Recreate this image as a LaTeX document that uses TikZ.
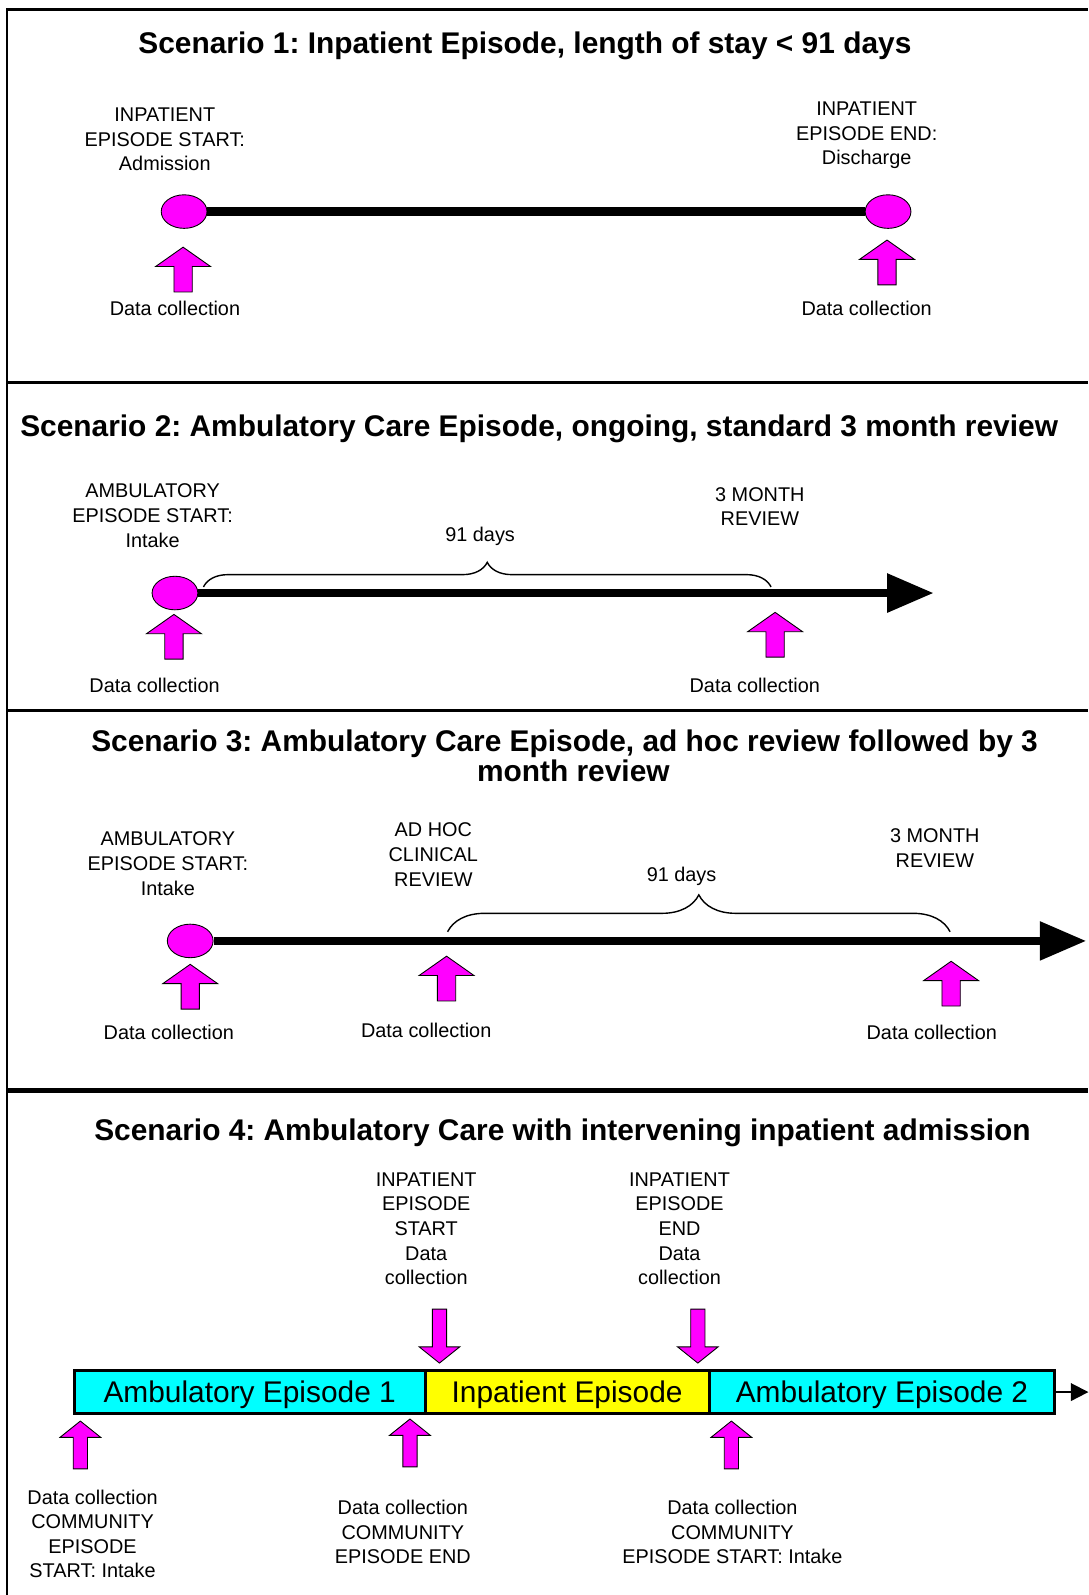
\documentclass[tikz,border=0pt]{standalone}
\usepackage{fontspec}
\setmainfont{Liberation Sans}
\frenchspacing
\usetikzlibrary{arrows.meta,shapes.geometric,decorations.pathreplacing}
\definecolor{collect}{RGB}{255,0,255}
\definecolor{ambulatory}{RGB}{0,255,255}
\definecolor{inpatient}{RGB}{255,255,0}

% block arrows marking a data collection point, tip at the pic origin
\tikzset{
  bigup/.pic={\filldraw[fill=collect, draw=black, line width=0.5pt]
    (0,0) -- (27,19) -- (9,19) -- (9,44) -- (-9,44) -- (-9,19) -- (-27,19) -- cycle;},
  smallup/.pic={\filldraw[fill=collect, draw=black, line width=0.5pt]
    (0,0) -- (20,16) -- (7,16) -- (7,47) -- (-7,47) -- (-7,16) -- (-20,16) -- cycle;},
  smalldown/.pic={\filldraw[fill=collect, draw=black, line width=0.5pt]
    (0,0) -- (20,-16) -- (7,-16) -- (7,-53) -- (-7,-53) -- (-7,-16) -- (-20,-16) -- cycle;}
}

\begin{document}
\begin{tikzpicture}[x=0.02034cm, y=-0.02034cm]
            \tikzstyle{heading} = [font=\fontsize{17}{17.5}\selectfont\bfseries, inner sep=0pt, align=center]
            \tikzstyle{txt} = [font=\fontsize{11.3}{14}\selectfont, inner sep=0pt, align=center]
            \tikzstyle{timeline} = [line width=5pt]
            \tikzstyle{spot} = [ellipse, draw=black, fill=collect, line width=0.5pt, inner sep=0pt,
                minimum width={45*0.02034cm}, minimum height={33*0.02034cm}]
            \tikzstyle{headtip} = [-{Triangle[length=26.5pt,width=21pt]}]
            \tikzstyle{dayspan} = [decorate, line width=0.8pt]
            \tikzstyle{episode} = [draw=black, line width=1.7pt, inner sep=0pt, text height=12.2pt, text depth=0pt,
                minimum height={43*0.02034cm}, font=\fontsize{17}{20}\selectfont]
            \useasboundingbox (0,0) rectangle (1070,1568);

            % frame
            \draw[line width=1.7pt] (6,9) -- (1070,9);
            \draw[line width=1.4pt] (7,8) -- (7,1568);
            \draw[line width=1.7pt] (7,376) -- (1070,376);
            \draw[line width=1.7pt] (7,698) -- (1070,698);
            \draw[line width=2.9pt] (7,1072) -- (1070,1072);

            % scenario 1
            \node[heading] (head1) at (516,45) {Scenario 1: Inpatient Episode, length of stay < 91 days};
            \node[txt] (s1admit) at (162,137) {INPATIENT\\EPISODE START:\\Admission};
            \node[txt] (s1disch) at (852,133) {INPATIENT\\EPISODE END:\\Discharge};
            \node[spot] (s1start) at (181,208) {};
            \node[spot] (s1end) at (873,208) {};
            \draw[timeline] (s1start.east) -- (s1end.west);
            \pic (s1dc1) at (180,243) {bigup};
            \pic (s1dc2) at (872,236) {bigup};
            \node[txt] (s1lab1) at (172,303) {Data collection};
            \node[txt] (s1lab2) at (852,303) {Data collection};

            % scenario 2
            \node[heading] (head2) at (530,422) {Scenario 2: Ambulatory Care Episode, ongoing, standard 3 month review};
            \node[txt] (s2intake) at (150,507) {AMBULATORY\\EPISODE START:\\Intake};
            \node[txt] (s2review) at (747,498) {3 MONTH\\REVIEW};
            \node[txt] (s2days) at (472,527) {91 days};
            \node[spot] (s2start) at (172,583) {};
            \coordinate (s2end) at (918,583);
            \draw[timeline, headtip] (s2start.east) -- (s2end);
            \coordinate (s2from) at (200,577);
            \coordinate (s2to) at (758,577);
            \draw[dayspan, decoration={brace, amplitude=14pt}] (s2from) -- (s2to);
            \pic (s2dc1) at (171,604) {bigup};
            \pic (s2dc2) at (762,602) {bigup};
            \node[txt] (s2lab1) at (152,674) {Data collection};
            \node[txt] (s2lab2) at (742,674) {Data collection};

            % scenario 3
            \node[heading] (head3) at (555,743) {Scenario 3: Ambulatory Care Episode, ad hoc review followed by 3\\\hspace*{10pt}month review};
            \node[txt] (s3intake) at (165,849) {AMBULATORY\\EPISODE START:\\Intake};
            \node[txt] (s3adhoc) at (426,840) {AD HOC\\CLINICAL\\REVIEW};
            \node[txt] (s3days) at (670,862) {91 days};
            \node[txt] (s3review) at (919,834) {3 MONTH\\REVIEW};
            \node[spot] (s3start) at (187,925) {};
            \coordinate (s3end) at (1068,925);
            \draw[timeline, headtip] (s3start.east) -- (s3end);
            \coordinate (s3from) at (440,916);
            \coordinate (s3to) at (934,916);
            \draw[dayspan, decoration={brace, amplitude=21pt}] (s3from) -- (s3to);
            \pic (s3dc1) at (187,948) {bigup};
            \pic (s3dc2) at (439,940) {bigup};
            \pic (s3dc3) at (935,945) {bigup};
            \node[txt] (s3lab1) at (166,1015) {Data collection};
            \node[txt] (s3lab2) at (419,1013) {Data collection};
            \node[txt] (s3lab3) at (916,1015) {Data collection};

            % scenario 4
            \node[heading] (head4) at (553,1114) {Scenario 4: Ambulatory Care with intervening inpatient admission};
            \node[txt] (s4instart) at (419,1208) {INPATIENT\\EPISODE\\START\\Data\\collection};
            \node[txt] (s4inend) at (668,1208) {INPATIENT\\EPISODE\\END\\Data\\collection};
            \pic (s4dc1) at (432,1340) {smalldown};
            \pic (s4dc2) at (686,1340) {smalldown};
            \node[episode, fill=ambulatory, minimum width={345*0.02034cm}] (amb1) at (245.5,1368.5) {Ambulatory Episode 1};
            \node[episode, fill=inpatient, minimum width={279*0.02034cm}] (inpat) at (557.5,1368.5) {Inpatient Episode};
            \node[episode, fill=ambulatory, minimum width={340*0.02034cm}] (amb2) at (867,1368.5) {Ambulatory Episode 2};
            \coordinate (s4end) at (1070,1368.5);
            \draw[line width=1.1pt, -{Triangle[length=10pt,width=10pt]}] (amb2.east) -- (s4end);
            \pic (s4dc3) at (79,1397) {smallup};
            \pic (s4dc4) at (403,1395) {smallup};
            \pic (s4dc5) at (719,1397) {smallup};
            \node[txt] (s4lab1) at (91,1508) {Data collection\\COMMUNITY\\EPISODE\\START: Intake};
            \node[txt] (s4lab2) at (396,1506) {Data collection\\COMMUNITY\\EPISODE END};
            \node[txt] (s4lab3) at (720,1506) {Data collection\\COMMUNITY\\EPISODE START: Intake};
        \end{tikzpicture}
\end{document}
